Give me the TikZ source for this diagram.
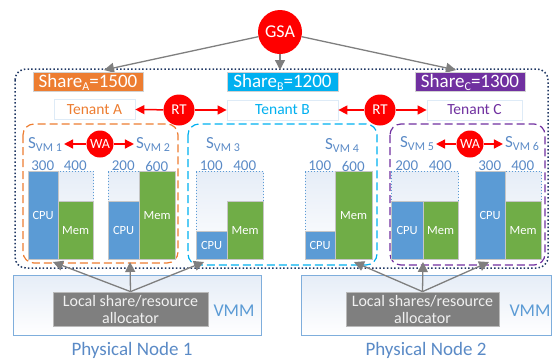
\documentclass[tikz,border=0pt]{standalone}
\usepackage{fontspec}
\setmainfont{Carlito}
\usetikzlibrary{arrows.meta}

\definecolor{tenA}{HTML}{ED7D31}
\definecolor{tenB}{HTML}{00B0F0}
\definecolor{tenC}{HTML}{7030A0}
\definecolor{cpuC}{HTML}{5B9BD5}
\definecolor{memC}{HTML}{70AD47}
\definecolor{navyC}{HTML}{203864}
\definecolor{arrowGray}{HTML}{7F7F7F}
\definecolor{labBlue}{HTML}{5A8AC6}
\definecolor{pnBorder}{HTML}{7FAEDC}
\definecolor{pnTop}{HTML}{E6EDF7}

\newcommand\myfs[1]{\fontsize{#1}{#1}\selectfont}
\newcommand\svmlab[1]{{\myfs{17}S}\raisebox{-3pt}{\myfs{12}VM #1}}
\newcommand\sharelab[2]{Share\raisebox{-3pt}{\myfs{12}#1}=#2}

% one VM: id, x0, xsplit, x1, cpu height, mem height, cpu value, mem value
\newcommand\vmgroup[8]{%
  \node[vmbox, anchor=south west, minimum width={(#4-#2)*1pt}, minimum height=88pt] (box#1) at (#2,260) {};
  \node[cpubar, anchor=south west, minimum width={(#3-#2)*1pt}, minimum height={#5*1pt}] (cpu#1) at (#2,260) {CPU};
  \node[membar, anchor=south west, minimum width={(#4-#3)*1pt}, minimum height={#6*1pt}] (mem#1) at (#3,260) {Mem};
  \node[val] (vc#1) at ({(#2+#3)/2},166) {#7};
  \node[val] (vm#1) at ({(#3+#4)/2},166) {#8};
}

\begin{document}
\begin{tikzpicture}[x=1pt,y=-1pt,
  share/.style={draw=gray!35, line width=0.8pt, text=white, inner sep=0pt,
    minimum height=19pt, font=\myfs{19}},
  tenant/.style={draw=cpuC!20, fill=white, line width=0.8pt, inner sep=0pt,
    minimum height=20pt, font=\myfs{15.5}},
  redball/.style={circle, fill=red, text=white, inner sep=0pt},
  redarrow/.style={draw=red, line width=1.5pt, -{Triangle[length=9pt,width=9pt]}},
  grayarrow/.style={draw=arrowGray, line width=1.3pt, -{Triangle[length=10pt,width=10pt]}},
  vmbox/.style={draw=cpuC, dotted, line width=1pt, top color=pnTop, bottom color=white, inner sep=0pt},
  cpubar/.style={fill=cpuC, draw=gray!45, line width=0.8pt, text=white, inner sep=0pt, font=\myfs{12.5}},
  membar/.style={fill=memC, draw=gray!45, line width=0.8pt, text=white, inner sep=0pt, font=\myfs{12.5}},
  val/.style={text=labBlue, inner sep=0pt, font=\myfs{15}},
  svm/.style={text=labBlue, inner sep=2pt},
  tenbox/.style={line width=1.2pt, dash pattern=on 8pt off 4pt, rounded corners=11pt},
  pnode/.style={draw=pnBorder, line width=1pt, top color=pnTop, bottom color=white, inner sep=0pt},
  alloc/.style={fill=arrowGray, draw=gray!55, line width=0.8pt, text=gray!12, inner sep=0pt,
    align=center, font=\myfs{16}, minimum height=34pt}
]
\useasboundingbox (0,0) rectangle (552,360);

% cluster frame and tenant groups
\draw[navyC, line width=1.5pt, dash pattern=on 1.5pt off 2.2pt, rounded corners=11pt]
  (15,69) rectangle (548,268);
\draw[tenbox, tenA] (23,124) rectangle (178,263);
\draw[tenbox, tenB] (188,124) rectangle (377,265);
\draw[tenbox, tenC] (390,124) rectangle (545,265);

% global share allocator
\node[redball, minimum size=44pt, font=\myfs{18}] (gsa) at (280,32) {GSA};
\coordinate (tipA) at (104,70);
\coordinate (tipB) at (280,70);
\coordinate (tipC) at (456,70);
\draw[grayarrow] (gsa) -- (tipA);
\draw[grayarrow] (gsa) -- (tipB);
\draw[grayarrow] (gsa) -- (tipC);

% tenant shares
\node[share, fill=tenA, minimum width=110pt] (shA) at (88,82) {\sharelab{A}{1500}};
\node[share, fill=tenB, minimum width=111pt] (shB) at (282.5,82) {\sharelab{B}{1200}};
\node[share, fill=tenC, minimum width=110pt] (shC) at (470,82) {\sharelab{C}{1300}};

% tenants and redistribution between them
\node[tenant, text=tenA, minimum width=81pt] (tA) at (94.5,109.5) {Tenant A};
\node[tenant, text=tenB, minimum width=111pt] (tB) at (282.5,110) {Tenant B};
\node[tenant, text=tenC, minimum width=95pt] (tC) at (474.5,110) {Tenant C};
\node[redball, minimum size=31pt, font=\myfs{15}] (rt1) at (179,110) {RT};
\node[redball, minimum size=31pt, font=\myfs{15}] (rt2) at (380,110) {RT};
\draw[redarrow] (rt1) -- (tA.east);
\draw[redarrow] (rt1) -- (tB.west);
\draw[redarrow] (rt2) -- (tB.east);
\draw[redarrow] (rt2) -- (tC.west);

% VM share labels
\node[svm] (s1) at (45,144) {\svmlab{1}};
\node[svm] (s2) at (153,144) {\svmlab{2}};
\node[svm] (s3) at (223,145) {\svmlab{3}};
\node[svm] (s4) at (342,145) {\svmlab{4}};
\node[svm] (s5) at (417,144) {\svmlab{5}};
\node[svm] (s6) at (522,144) {\svmlab{6}};
\node[redball, minimum size=27pt, font=\myfs{14}] (wa1) at (100,144) {WA};
\node[redball, minimum size=27pt, font=\myfs{14}] (wa2) at (470,144) {WA};
\draw[redarrow] (wa1) -- (s1.east);
\draw[redarrow] (wa1) -- (s2.west);
\draw[redarrow] (wa2) -- (s5.east);
\draw[redarrow] (wa2) -- (s6.west);

% VM resource bars
\vmgroup{1}{28}{57.5}{93}{88}{58}{300}{400}
\vmgroup{2}{108}{138.5}{175}{58}{88}{200}{600}
\vmgroup{3}{196}{226.5}{263}{28}{58}{100}{400}
\vmgroup{4}{305}{334.5}{372}{28}{88}{100}{600}
\vmgroup{5}{391}{422.5}{458}{58}{58}{200}{400}
\vmgroup{6}{475}{504.5}{541}{88}{58}{300}{400}

% physical nodes
\node[pnode, anchor=north west, minimum width=248pt, minimum height=60pt] (pn1) at (13,275) {};
\node[pnode, anchor=north west, minimum width=250pt, minimum height=60pt] (pn2) at (301,275) {};
\node[text=cpuC, font=\myfs{18}] (vmm1) at (234,311) {VMM};
\node[text=cpuC, font=\myfs{18}] (vmm2) at (530,311) {VMM};
\node[alloc, minimum width=155pt] (al1) at (130.5,309) {Local share/resource\\[1pt]allocator};
\node[alloc, minimum width=153pt] (al2) at (422.5,309) {Local shares/resource\\[1pt]allocator};
\node[text=labBlue, font=\myfs{19}] (pl1) at (132,350) {Physical Node 1};
\node[text=labBlue, font=\myfs{19}] (pl2) at (426,350) {Physical Node 2};

% local allocation arrows
\coordinate (d1) at (53,262);
\coordinate (d2) at (130,262);
\coordinate (d3) at (204,262);
\coordinate (d4) at (354,262);
\coordinate (d5) at (423,262);
\coordinate (d6) at (489,262);
\draw[grayarrow] (al1.north) -- (d1);
\draw[grayarrow] (al1.north) -- (d2);
\draw[grayarrow] (al1.north) -- (d3);
\draw[grayarrow] (al2.north) -- (d4);
\draw[grayarrow] (al2.north) -- (d5);
\draw[grayarrow] (al2.north) -- (d6);
\end{tikzpicture}
\end{document}
